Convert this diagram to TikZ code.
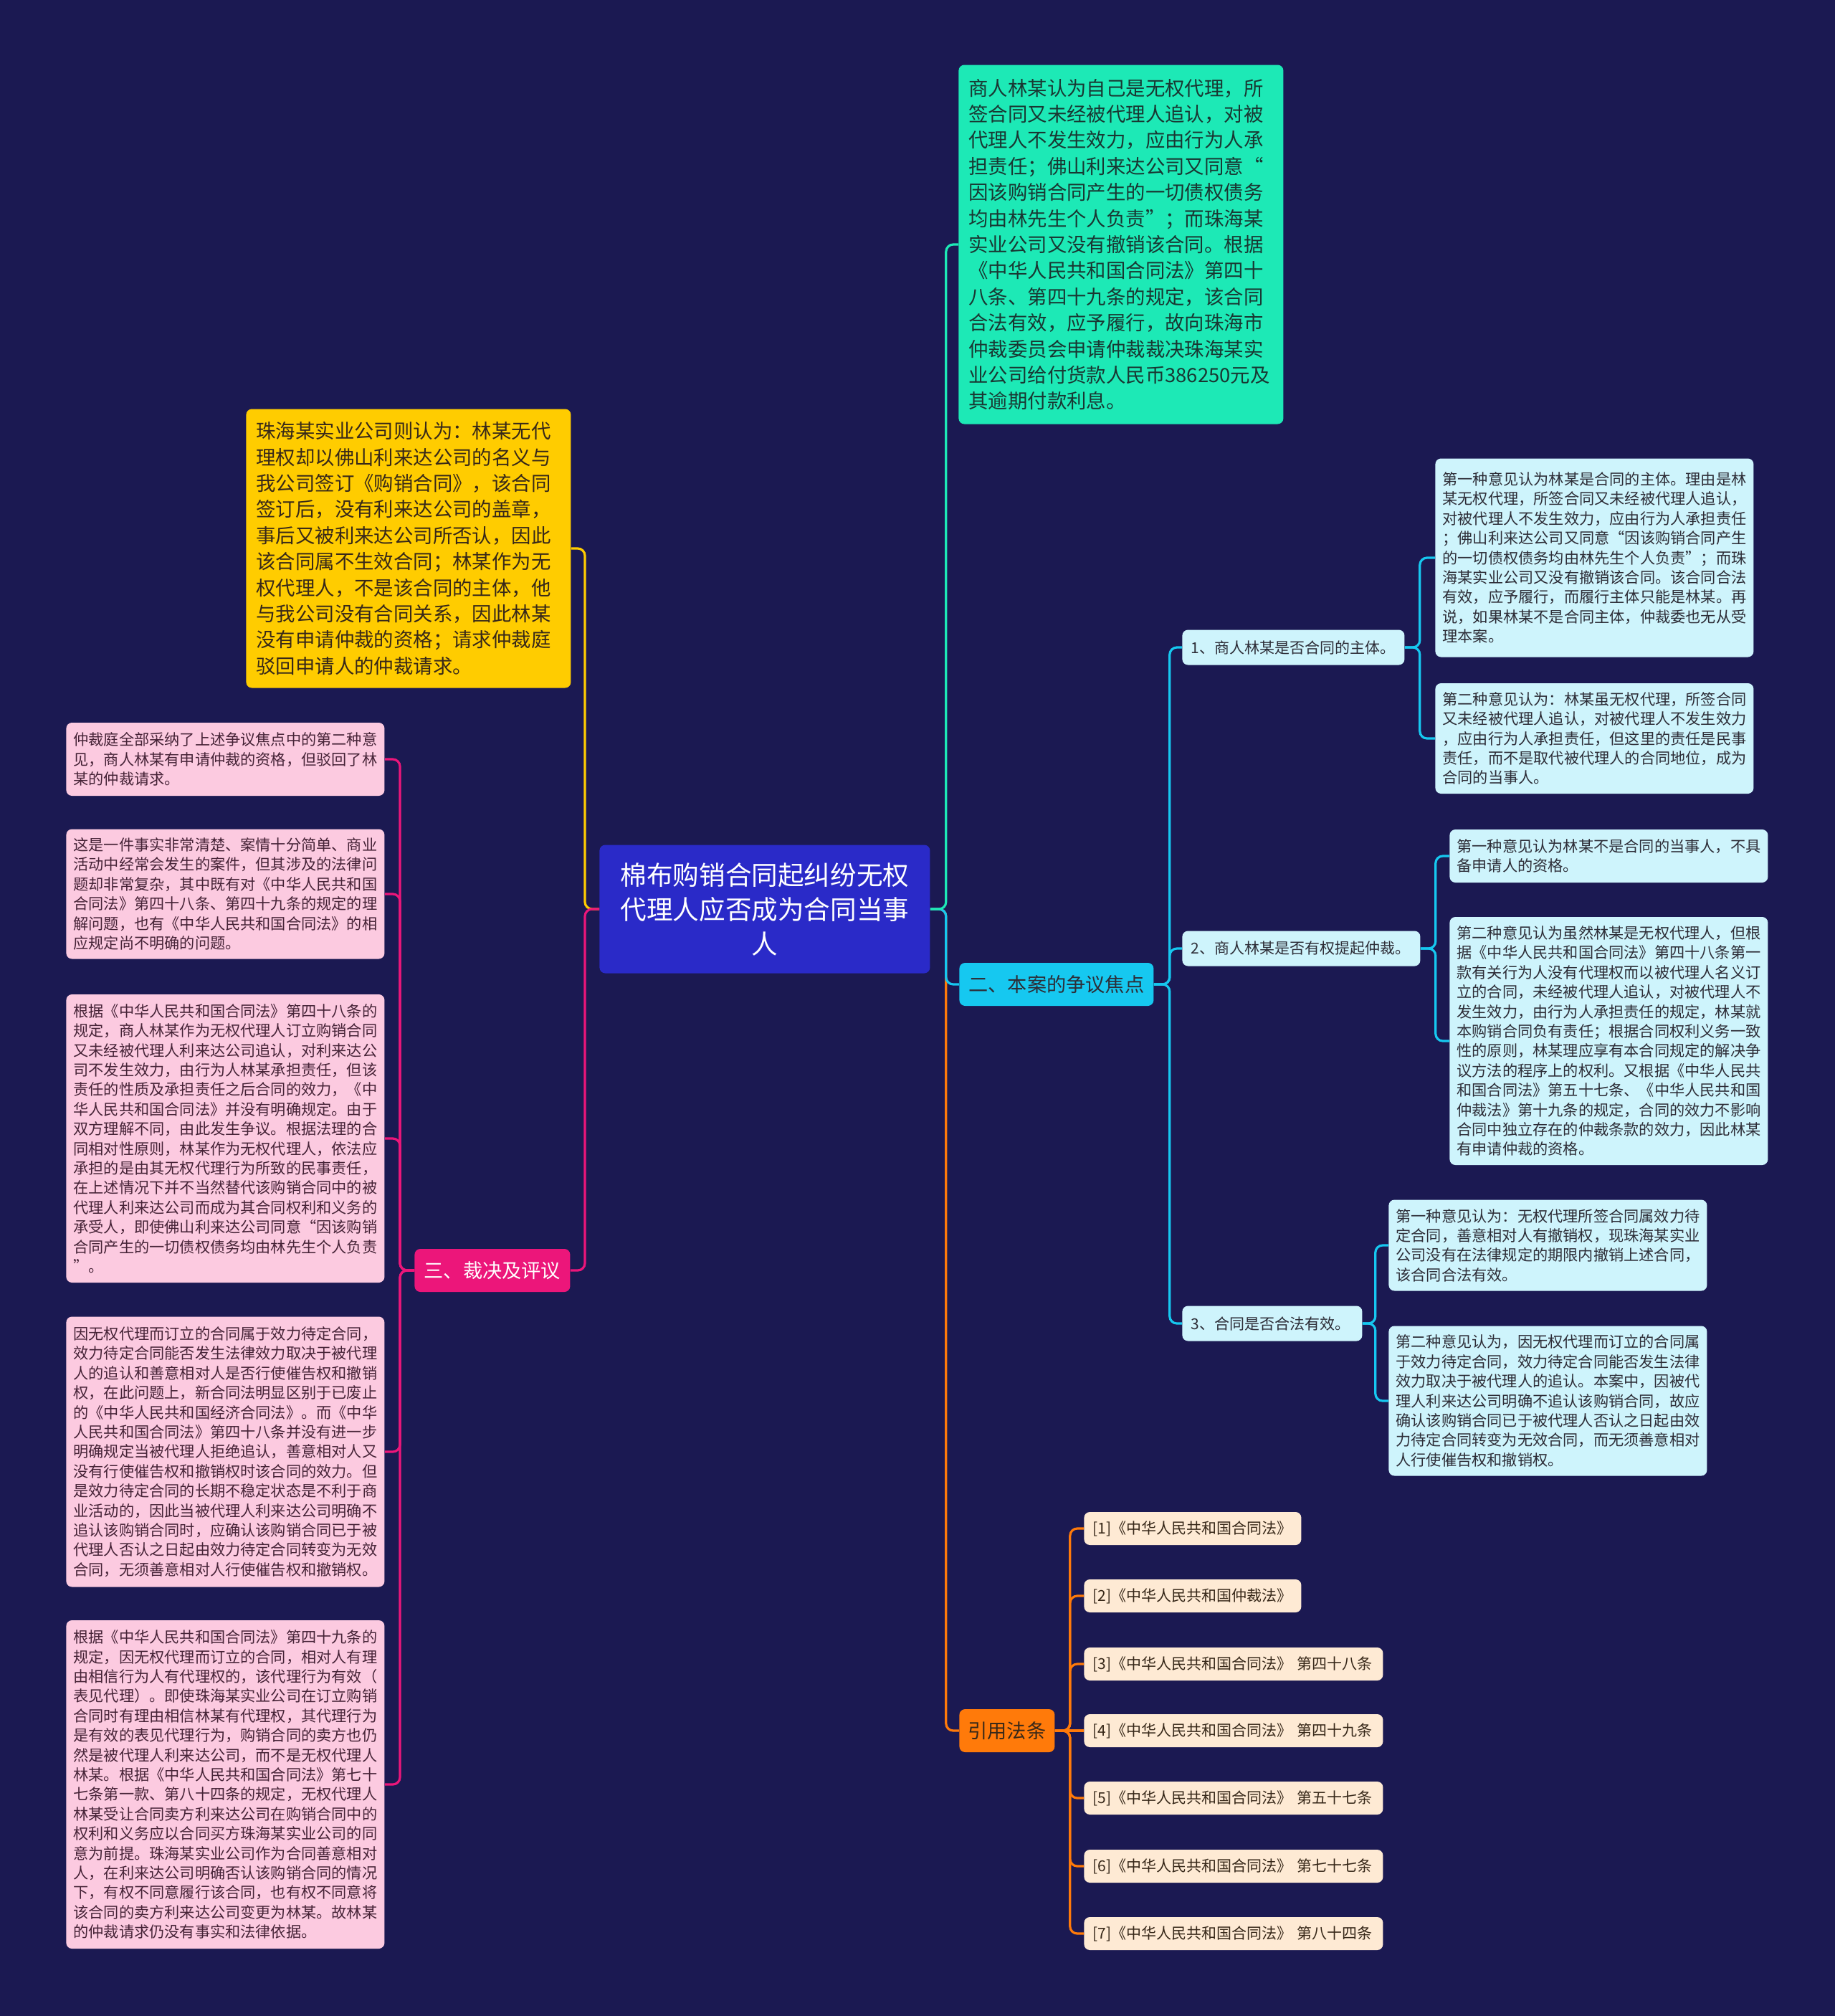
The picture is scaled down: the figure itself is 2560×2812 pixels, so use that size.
\documentclass[tikz,border=0pt]{standalone}
\usepackage{fontspec}
\setmainfont{Noto Sans CJK SC}
\usepackage{tikz}
\definecolor{MapNavy}{RGB}{27,25,82}
\definecolor{RootBlue}{RGB}{42,42,200}
\definecolor{ClaimTeal}{RGB}{29,233,182}
\definecolor{DefenceGold}{RGB}{255,204,0}
\definecolor{FocusCyan}{RGB}{22,200,240}
\definecolor{RulingPink}{RGB}{236,22,122}
\definecolor{LawOrange}{RGB}{255,122,10}
\definecolor{LeafBlue}{RGB}{206,244,252}
\definecolor{NotePink}{RGB}{252,202,224}
\definecolor{LawPeach}{RGB}{254,234,212}
\definecolor{LeafText}{RGB}{45,45,55}
\definecolor{ClaimText}{RGB}{25,55,50}
\definecolor{NoteText}{RGB}{70,35,55}
\definecolor{LawText}{RGB}{55,40,25}

\begin{document}
\begin{tikzpicture}[
  x=0.5pt, y=-0.5pt,
  box/.style={rounded corners=4pt, anchor=west, inner ysep=0pt, align=left},
  bigtext/.style={box, inner xsep=7pt, text width=212.5pt,
    font=\fontsize{13.7}{18.2}\selectfont},
  branch/.style={box, inner xsep=0pt, align=center,
    minimum height=30pt, font=\fontsize{13.6}{16}\selectfont},
  leaf/.style={box, inner xsep=5pt, text width=212pt, fill=LeafBlue,
    text=LeafText, font=\fontsize{10.6}{13.7}\selectfont},
  note/.style={leaf, fill=NotePink, text=NoteText},
  issue/.style={box, inner xsep=6pt, minimum height=24.5pt, fill=LeafBlue,
    text=LeafText, font=\fontsize{10.5}{13}\selectfont},
  law/.style={issue, minimum height=23pt, fill=LawPeach, text=LawText},
  link/.style={draw=#1, line width=1.6pt, rounded corners=5pt}
]
\fill[MapNavy] (0,0) rectangle (2560,2812);

\node[
  box,
  fill=RootBlue,
  text=white,
  align=center,
  inner xsep=12.75pt,
  text width=205pt,
  minimum height=89.5pt,
  font=\fontsize{18.3}{24}\selectfont
] (root) at (836,1268) {棉布购销合同起纠纷无权\\代理人应否成为合同当事\\人};

\node[bigtext, fill=ClaimTeal, text=ClaimText, minimum height=250.5pt] (claim) at (1337,341) {
商人林某认为自己是无权代理，所\\
签合同又未经被代理人追认，对被\\
代理人不发生效力，应由行为人承\\
担责任；佛山利来达公司又同意“\\
因该购销合同产生的一切债权债务\\
均由林先生个人负责”；而珠海某\\
实业公司又没有撤销该合同。根据\\
《中华人民共和国合同法》第四十\\
八条、第四十九条的规定，该合同\\
合法有效，应予履行，故向珠海市\\
仲裁委员会申请仲裁裁决珠海某实\\
业公司给付货款人民币386250元及\\
其逾期付款利息。};

\node[bigtext, fill=DefenceGold, text=LawText, minimum height=194.5pt] (defence) at (343,765) {
珠海某实业公司则认为：林某无代\\
理权却以佛山利来达公司的名义与\\
我公司签订《购销合同》，该合同\\
签订后，没有利来达公司的盖章，\\
事后又被利来达公司所否认，因此\\
该合同属不生效合同；林某作为无\\
权代理人，不是该合同的主体，他\\
与我公司没有合同关系，因此林某\\
没有申请仲裁的资格；请求仲裁庭\\
驳回申请人的仲裁请求。};

\node[branch, fill=FocusCyan, text=LeafText, minimum width=135.5pt] (focus) at (1338,1373) {二、本案的争议焦点};
\node[branch, fill=RulingPink, text=white, minimum width=108.5pt] (ruling) at (578,1772) {三、裁决及评议};
\node[branch, fill=LawOrange, text=LawText, minimum width=66.5pt] (laws) at (1338,2414) {引用法条};

\node[issue, text width=143pt] (focusA) at (1649,903) {1、商人林某是否合同的主体。};
\node[issue, text width=154pt] (focusB) at (1649,1323) {2、商人林某是否有权提起仲裁。};
\node[issue, text width=113.5pt] (focusC) at (1649,1846) {3、合同是否合法有效。};

\node[leaf, minimum height=138.5pt] (optA1) at (2002,778) {
第一种意见认为林某是合同的主体。理由是林\\
某无权代理，所签合同又未经被代理人追认，\\
对被代理人不发生效力，应由行为人承担责任\\
；佛山利来达公司又同意“因该购销合同产生\\
的一切债权债务均由林先生个人负责”；而珠\\
海某实业公司又没有撤销该合同。该合同合法\\
有效，应予履行，而履行主体只能是林某。再\\
说，如果林某不是合同主体，仲裁委也无从受\\
理本案。};
\node[leaf, minimum height=77pt] (optA2) at (2002,1030) {
第二种意见认为：林某虽无权代理，所签合同\\
又未经被代理人追认，对被代理人不发生效力\\
，应由行为人承担责任，但这里的责任是民事\\
责任，而不是取代被代理人的合同地位，成为\\
合同的当事人。};
\node[leaf, minimum height=37pt] (optB1) at (2022,1194) {
第一种意见认为林某不是合同的当事人，不具\\
备申请人的资格。};
\node[leaf, minimum height=173pt] (optB2) at (2022,1452) {
第二种意见认为虽然林某是无权代理人，但根\\
据《中华人民共和国合同法》第四十八条第一\\
款有关行为人没有代理权而以被代理人名义订\\
立的合同，未经被代理人追认，对被代理人不\\
发生效力，由行为人承担责任的规定，林某就\\
本购销合同负有责任；根据合同权利义务一致\\
性的原则，林某理应享有本合同规定的解决争\\
议方法的程序上的权利。又根据《中华人民共\\
和国合同法》第五十七条、《中华人民共和国\\
仲裁法》第十九条的规定，合同的效力不影响\\
合同中独立存在的仲裁条款的效力，因此林某\\
有申请仲裁的资格。};
\node[leaf, minimum height=63.5pt] (optC1) at (1937,1737) {
第一种意见认为：无权代理所签合同属效力待\\
定合同，善意相对人有撤销权，现珠海某实业\\
公司没有在法律规定的期限内撤销上述合同，\\
该合同合法有效。};
\node[leaf, minimum height=104.5pt] (optC2) at (1937,1954) {
第二种意见认为，因无权代理而订立的合同属\\
于效力待定合同，效力待定合同能否发生法律\\
效力取决于被代理人的追认。本案中，因被代\\
理人利来达公司明确不追认该购销合同，故应\\
确认该购销合同已于被代理人否认之日起由效\\
力待定合同转变为无效合同，而无须善意相对\\
人行使催告权和撤销权。};

\node[note, minimum height=51pt] (note1) at (92,1059) {
仲裁庭全部采纳了上述争议焦点中的第二种意\\
见，商人林某有申请仲裁的资格，但驳回了林\\
某的仲裁请求。};
\node[note, minimum height=90.5pt] (note2) at (92,1247) {
这是一件事实非常清楚、案情十分简单、商业\\
活动中经常会发生的案件，但其涉及的法律问\\
题却非常复杂，其中既有对《中华人民共和国\\
合同法》第四十八条、第四十九条的规定的理\\
解问题，也有《中华人民共和国合同法》的相\\
应规定尚不明确的问题。};
\node[note, minimum height=201pt] (note3) at (92,1588) {
根据《中华人民共和国合同法》第四十八条的\\
规定，商人林某作为无权代理人订立购销合同\\
又未经被代理人利来达公司追认，对利来达公\\
司不发生效力，由行为人林某承担责任，但该\\
责任的性质及承担责任之后合同的效力，《中\\
华人民共和国合同法》并没有明确规定。由于\\
双方理解不同，由此发生争议。根据法理的合\\
同相对性原则，林某作为无权代理人，依法应\\
承担的是由其无权代理行为所致的民事责任，\\
在上述情况下并不当然替代该购销合同中的被\\
代理人利来达公司而成为其合同权利和义务的\\
承受人，即使佛山利来达公司同意“因该购销\\
合同产生的一切债权债务均由林先生个人负责\\
”。};
\node[note, minimum height=188.5pt] (note4) at (92,2025) {
因无权代理而订立的合同属于效力待定合同，\\
效力待定合同能否发生法律效力取决于被代理\\
人的追认和善意相对人是否行使催告权和撤销\\
权，在此问题上，新合同法明显区别于已废止\\
的《中华人民共和国经济合同法》。而《中华\\
人民共和国合同法》第四十八条并没有进一步\\
明确规定当被代理人拒绝追认，善意相对人又\\
没有行使催告权和撤销权时该合同的效力。但\\
是效力待定合同的长期不稳定状态是不利于商\\
业活动的，因此当被代理人利来达公司明确不\\
追认该购销合同时，应确认该购销合同已于被\\
代理人否认之日起由效力待定合同转变为无效\\
合同，无须善意相对人行使催告权和撤销权。};
\node[note, minimum height=229pt] (note5) at (92,2489) {
根据《中华人民共和国合同法》第四十九条的\\
规定，因无权代理而订立的合同，相对人有理\\
由相信行为人有代理权的，该代理行为有效（\\
表见代理）。即使珠海某实业公司在订立购销\\
合同时有理由相信林某有代理权，其代理行为\\
是有效的表见代理行为，购销合同的卖方也仍\\
然是被代理人利来达公司，而不是无权代理人\\
林某。根据《中华人民共和国合同法》第七十\\
七条第一款、第八十四条的规定，无权代理人\\
林某受让合同卖方利来达公司在购销合同中的\\
权利和义务应以合同买方珠海某实业公司的同\\
意为前提。珠海某实业公司作为合同善意相对\\
人，在利来达公司明确否认该购销合同的情况\\
下，有权不同意履行该合同，也有权不同意将\\
该合同的卖方利来达公司变更为林某。故林某\\
的仲裁请求仍没有事实和法律依据。};

\node[law, text width=139.5pt] (law1) at (1512,2132) {[1]《中华人民共和国合同法》};
\node[law, text width=139.5pt] (law2) at (1512,2226) {[2]《中华人民共和国仲裁法》};
\node[law, text width=196.5pt] (law3) at (1512,2321) {[3]《中华人民共和国合同法》 第四十八条};
\node[law, text width=196.5pt] (law4) at (1512,2414) {[4]《中华人民共和国合同法》 第四十九条};
\node[law, text width=196.5pt] (law5) at (1512,2508) {[5]《中华人民共和国合同法》 第五十七条};
\node[law, text width=196.5pt] (law6) at (1512,2603) {[6]《中华人民共和国合同法》 第七十七条};
\node[law, text width=196.5pt] (law7) at (1512,2697) {[7]《中华人民共和国合同法》 第八十四条};

\draw[link=LawOrange] (root.east) -- ++(22,0) |- (laws.west);
\draw[link=FocusCyan] (root.east) -- ++(22,0) |- (focus.west);
\draw[link=ClaimTeal] (root.east) -- ++(22,0) |- (claim.west);
\draw[link=DefenceGold] (root.west) -- ++(-20,0) |- (defence.east);
\draw[link=RulingPink] (root.west) -- ++(-20,0) |- (ruling.east);

\draw[link=FocusCyan] (focus.east) -- ++(22,0) |- (focusA.west);
\draw[link=FocusCyan] (focus.east) -- ++(22,0) |- (focusB.west);
\draw[link=FocusCyan] (focus.east) -- ++(22,0) |- (focusC.west);
\draw[link=FocusCyan] (focusA.east) -- ++(21,0) |- (optA1.west);
\draw[link=FocusCyan] (focusA.east) -- ++(21,0) |- (optA2.west);
\draw[link=FocusCyan] (focusB.east) -- ++(21,0) |- (optB1.west);
\draw[link=FocusCyan] (focusB.east) -- ++(21,0) |- (optB2.west);
\draw[link=FocusCyan] (focusC.east) -- ++(18,0) |- (optC1.west);
\draw[link=FocusCyan] (focusC.east) -- ++(18,0) |- (optC2.west);

\draw[link=RulingPink] (ruling.west) -- ++(-20,0) |- (note1.east);
\draw[link=RulingPink] (ruling.west) -- ++(-20,0) |- (note2.east);
\draw[link=RulingPink] (ruling.west) -- ++(-20,0) |- (note3.east);
\draw[link=RulingPink] (ruling.west) -- ++(-20,0) |- (note4.east);
\draw[link=RulingPink] (ruling.west) -- ++(-20,0) |- (note5.east);

\draw[link=LawOrange] (laws.east) -- ++(21,0) |- (law1.west);
\draw[link=LawOrange] (laws.east) -- ++(21,0) |- (law2.west);
\draw[link=LawOrange] (laws.east) -- ++(21,0) |- (law3.west);
\draw[link=LawOrange] (laws.east) -- (law4.west);
\draw[link=LawOrange] (laws.east) -- ++(21,0) |- (law5.west);
\draw[link=LawOrange] (laws.east) -- ++(21,0) |- (law6.west);
\draw[link=LawOrange] (laws.east) -- ++(21,0) |- (law7.west);
\end{tikzpicture}
\end{document}
